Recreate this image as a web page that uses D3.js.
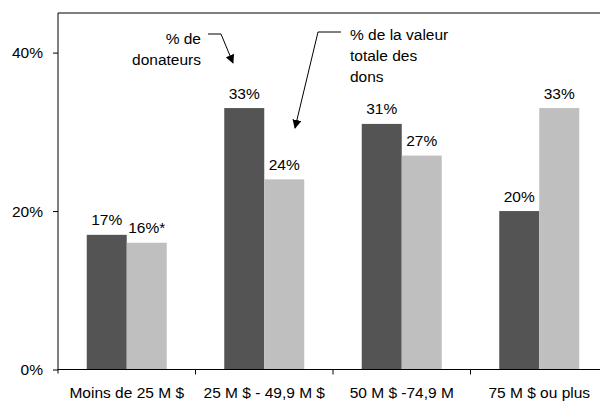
<!DOCTYPE html>
<html>
<head>
<meta charset="utf-8">
<script src="https://cdn.jsdelivr.net/npm/d3@7"></script>
<style>
  body { margin: 0; background: #fff; }
  text { font-family: Arial, "Liberation Sans", sans-serif; fill: #000; }
</style>
</head>
<body>
<svg id="chart" width="600" height="402"></svg>
<script>
// data
var categories = ['Moins de 25 M $', '25 M $ - 49,9 M $', '50 M $ -74,9 M', '75 M $ ou plus'];
var seriesNames = ['donateurs', 'valeur'];
var donateurs = [17, 33, 31, 20];
var valeur = [16, 24, 27, 33];
var valueLabels = [['17%', '16%*'], ['33%', '24%'], ['31%', '27%'], ['20%', '33%']];
var yTicks = [0, 20, 40];

var colors = { donateurs: '#545454', valeur: '#bfbfbf' };

var svg = d3.select('#chart');

var plotLeft = 58, plotRight = 608, plotTop = 13, plotBottom = 369.5;

var x0 = d3.scaleBand().domain(categories).range([plotLeft, plotRight]);
var x1 = d3.scaleBand().domain(seriesNames).range([0, 80]);
var y = d3.scaleLinear().domain([0, 45]).range([plotBottom, plotTop]);

var rows = categories.map(function(c, i) {
    return { cat: c, vals: [
        { key: 'donateurs', v: donateurs[i], label: valueLabels[i][0] },
        { key: 'valeur', v: valeur[i], label: valueLabels[i][1] }
    ] };
});

var off = (x0.bandwidth() - 80) / 2;

var groups = svg.selectAll('g.grp').data(rows).enter()
    .append('g')
    .attr('class', 'grp')
    .attr('transform', function(d) { return 'translate(' + (x0(d.cat) + off) + ',0)'; });

groups.selectAll('rect').data(function(d) { return d.vals; }).enter()
    .append('rect')
    .attr('x', function(d) { return x1(d.key); })
    .attr('y', function(d) { return y(d.v); })
    .attr('width', x1.bandwidth())
    .attr('height', function(d) { return plotBottom - y(d.v); })
    .attr('fill', function(d) { return colors[d.key]; });

groups.selectAll('text').data(function(d) { return d.vals; }).enter()
    .append('text')
    .attr('x', function(d) { return x1(d.key) + x1.bandwidth() / 2; })
    .attr('y', function(d) { return y(d.v) - 9.5; })
    .attr('text-anchor', 'middle')
    .style('font-size', '15.5px')
    .text(function(d) { return d.label; });

// top frame line
svg.append('line')
    .attr('x1', plotLeft).attr('x2', 600)
    .attr('y1', plotTop).attr('y2', plotTop)
    .attr('stroke', '#7f7f7f').attr('stroke-width', 2);

// y axis
var yAxis = svg.append('g')
    .attr('transform', 'translate(' + plotLeft + ',0)')
    .call(d3.axisLeft(y).tickValues(yTicks).tickSize(5).tickPadding(10)
        .tickFormat(function(d) { return d + '%'; }));
yAxis.select('.domain').attr('d', 'M0,' + plotTop + 'V' + (plotBottom + 4)).attr('stroke', '#000');
yAxis.selectAll('text').style('font-size', '15.5px').attr('font-family', null);

// x axis
var xAxis = svg.append('g')
    .attr('transform', 'translate(0,' + plotBottom + ')')
    .call(d3.axisBottom(x0).tickSize(0).tickPadding(17));
xAxis.select('.domain').attr('d', 'M' + plotLeft + ',0H600').attr('stroke', '#000');
xAxis.selectAll('text').style('font-size', '15.5px').attr('font-family', null);

// tick marks between categories
svg.append('g').selectAll('line').data(categories.slice(1)).enter()
    .append('line')
    .attr('x1', function(d) { return x0(d); })
    .attr('x2', function(d) { return x0(d); })
    .attr('y1', plotBottom).attr('y2', plotBottom + 5)
    .attr('stroke', '#000');

// annotations
svg.append('defs').append('marker')
    .attr('id', 'arr')
    .attr('viewBox', '0 0 10 10')
    .attr('refX', 9).attr('refY', 5)
    .attr('markerWidth', 9).attr('markerHeight', 9)
    .attr('markerUnits', 'userSpaceOnUse')
    .attr('orient', 'auto')
    .append('path').attr('d', 'M0,0L10,5L0,10Z').attr('fill', '#000');

svg.append('path')
    .attr('d', 'M208,34H221L233,63')
    .attr('fill', 'none').attr('stroke', '#000').attr('stroke-width', 1)
    .attr('marker-end', 'url(#arr)');

svg.append('path')
    .attr('d', 'M341,32H318L295,128')
    .attr('fill', 'none').attr('stroke', '#000').attr('stroke-width', 1)
    .attr('marker-end', 'url(#arr)');

var note1 = svg.append('text').attr('text-anchor', 'end').style('font-size', '15.5px');
note1.append('tspan').attr('x', 201).attr('y', 44).text('% de');
note1.append('tspan').attr('x', 201).attr('y', 64.5).text('donateurs');

var note2 = svg.append('text').style('font-size', '15.5px');
note2.append('tspan').attr('x', 350).attr('y', 40).text('% de la valeur');
note2.append('tspan').attr('x', 350).attr('y', 61).text('totale des');
note2.append('tspan').attr('x', 350).attr('y', 82).text('dons');
</script>
</body>
</html>
